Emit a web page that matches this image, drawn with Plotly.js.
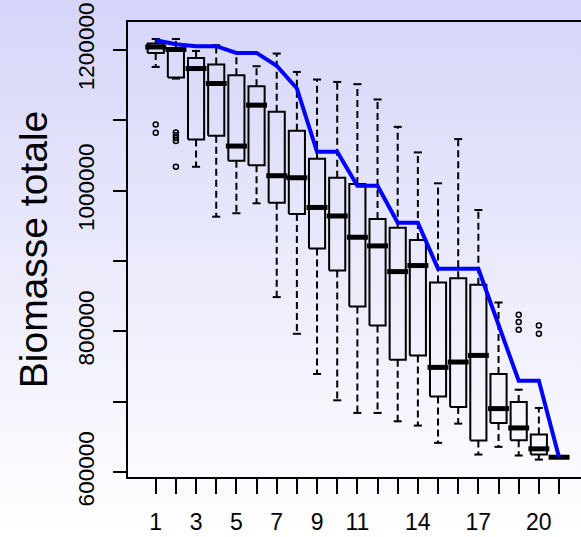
<!DOCTYPE html>
<html>
<head>
<meta charset="utf-8">
<script src="https://cdn.plot.ly/plotly-3.0.1.min.js"></script>
<style>
  html, body { margin: 0; padding: 0; }
  body { width: 581px; height: 537px; background: linear-gradient(to bottom, #D5D5F9 0%, #EDEDFC 55%, #FFFFFF 100%); }
  #chart { width: 581px; height: 537px; }
</style>
</head>
<body>
<div id="chart"></div>
<script>
// ---- data ----
const groups = [1,2,3,4,5,6,7,8,9,10,11,12,13,14,15,16,17,18,19,20,21];
const tickLabels = ['1','','3','','5','','7','','9','','11','','','14','','','17','','','20',''];
const whiskHigh = [1215300,1215300,1198300,1206400,1196500,1176600,1194600,1168500,1157700,1154300,1151100,1129400,1090500,1054200,1010300,1073100,972400,841000,717200,691300,621300];
const q3        = [1208800,1202600,1188400,1179000,1163800,1148200,1111800,1084900,1045200,1018200,1009300,959700,947300,929900,869400,875600,866100,739500,699800,653400,621300];
const medians   = [1204000,1200300,1173300,1152100,1063200,1121300,1021100,1018200,976000,963900,933700,921400,884900,893500,748900,756500,765900,690300,662900,633200,621300];
const q1        = [1195500,1160600,1072700,1077800,1042300,1035800,982800,966800,917600,886400,835300,808400,759800,765900,707700,692700,644900,670000,645300,625100,621300];
const whiskLow  = [1175600,1159000,1033800,962900,967800,981900,848700,796600,739500,702100,684200,684200,672300,666200,641700,669000,625100,636000,623700,617900,621300];
const outlierGroup = [1,1,2,2,2,2,2,19,19,19,20,20];
const outlierValue = [1093900,1082000,1082500,1078500,1074500,1070500,1033800,823600,813200,802300,808400,796600];
const lineValues = [1213500,1207800,1205000,1205000,1195500,1195500,1177300,1145000,1055100,1055100,1006900,1006900,954400,954400,888800,888800,888800,809400,730000,730000,621300];
const yTickVals = [600000,700000,800000,900000,1000000,1100000,1200000];
const yTickText = ['600000','','800000','','1000000','','1200000'];

// ---- styling constants ----
const BOXHALF = 0.4, CAPHALF = 0.2, MEDEXT = 0.12;

const wx = [], wy = [], cx = [], cy = [], bx = [], by = [], mx = [], my = [];
groups.forEach((g, i) => {
  wx.push(g, g, null, g, g, null);
  wy.push(q3[i], whiskHigh[i], null, q1[i], whiskLow[i], null);
  cx.push(g - CAPHALF, g + CAPHALF, null, g - CAPHALF, g + CAPHALF, null);
  cy.push(whiskHigh[i], whiskHigh[i], null, whiskLow[i], whiskLow[i], null);
  bx.push(g - BOXHALF, g + BOXHALF, g + BOXHALF, g - BOXHALF, g - BOXHALF, null);
  by.push(q1[i], q1[i], q3[i], q3[i], q1[i], null);
  mx.push(g - BOXHALF - MEDEXT, g + BOXHALF + MEDEXT, null);
  my.push(medians[i], medians[i], null);
});

const traces = [
  {x: wx, y: wy, mode: 'lines', line: {color: '#000', width: 2, dash: '7px,4px'}, hoverinfo: 'skip'},
  {x: cx, y: cy, mode: 'lines', line: {color: '#000', width: 2}, hoverinfo: 'skip'},
  {x: bx, y: by, mode: 'lines', line: {color: '#000', width: 2}, hoverinfo: 'skip'},
  {x: mx, y: my, mode: 'lines', line: {color: '#000', width: 5}, hoverinfo: 'skip'},
  {x: outlierGroup, y: outlierValue, mode: 'markers', marker: {symbol: 'circle-open', size: 5, color: '#000', line: {width: 1.5, color: '#000'}}},
  {x: groups, y: lineValues, mode: 'lines', line: {color: '#0000FF', width: 4}}
];

const layout = {
  width: 581, height: 537,
  margin: {l: 128, r: 0, t: 22, b: 60, pad: 0},
  paper_bgcolor: 'rgba(0,0,0,0)',
  plot_bgcolor: 'rgba(0,0,0,0)',
  showlegend: false,
  font: {family: 'Liberation Sans, Arial, sans-serif', color: '#000', size: 22},
  xaxis: {
    range: [-0.375, 22.09],
    tickmode: 'array', tickvals: groups, ticktext: tickLabels,
    ticks: 'outside', ticklen: 15, tickwidth: 2, tickcolor: '#000',
    ticklabelstandoff: 8,
    tickfont: {size: 23},
    showline: true, linewidth: 2, linecolor: '#000', mirror: true,
    showgrid: false, zeroline: false
  },
  yaxis: {
    range: [593200, 1239400],
    tickmode: 'array', tickvals: yTickVals, ticktext: yTickText,
    ticks: 'outside', ticklen: 13, tickwidth: 2, tickcolor: '#000',
    tickangle: -90, ticklabelstandoff: 10,
    tickfont: {size: 22.5},
    showline: true, linewidth: 2, linecolor: '#000', mirror: false,
    showgrid: false, zeroline: false,
    title: {text: 'Biomasse totale', font: {size: 39}, standoff: 14}
  }
};

Plotly.newPlot('chart', traces, layout, {displayModeBar: false, staticPlot: true});
</script>
</body>
</html>
